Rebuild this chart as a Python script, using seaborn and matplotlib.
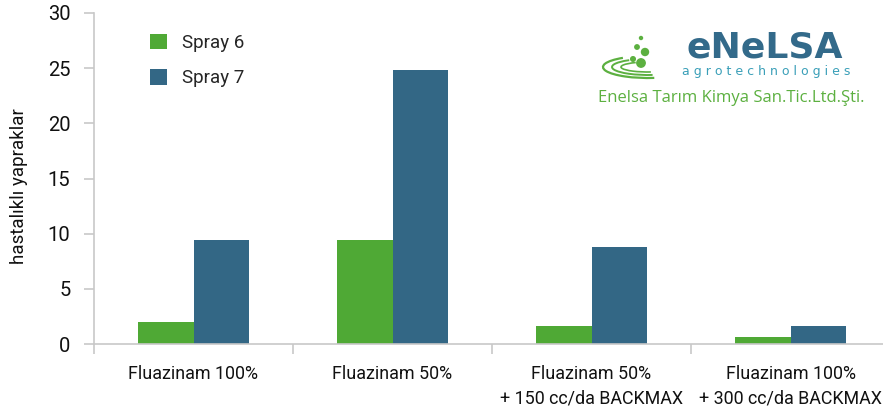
import matplotlib
matplotlib.use("Agg")
import matplotlib.pyplot as plt
from matplotlib.patches import Arc, Circle
import seaborn as sns
import pandas as pd

# veriler
kategoriler = ["Fluazinam 100%", "Fluazinam 50%",
               "Fluazinam 50%\n+ 150 cc/da BACKMAX",
               "Fluazinam 100%\n+ 300 cc/da BACKMAX"]
spray6 = [2.0, 9.4, 1.6, 0.6]
spray7 = [9.4, 24.8, 8.8, 1.6]
seriler = ["Spray 6", "Spray 7"]
renkler = ["#4fa935", "#336785"]

df = pd.DataFrame({
    "kategori": kategoriler * 2,
    "deger": spray6 + spray7,
    "seri": [seriler[0]] * 4 + [seriler[1]] * 4,
})

sns.set_style("white")
plt.rcParams["font.family"] = ["Roboto", "DejaVu Sans"]

W, H = 883, 407
fig = plt.figure(figsize=(W / 100, H / 100), dpi=100)
ax = fig.add_axes([94 / W, 1 - 344 / H, (890 - 94) / W, (344 - 13) / H])

sns.barplot(data=df, x="kategori", y="deger", hue="seri", palette=renkler,
            width=0.56, saturation=1, linewidth=0, ax=ax, legend=True)

ax.set_ylim(0, 30)
ax.set_xlim(-0.5, 3.5)
ax.set_yticks(range(0, 31, 5))
ax.set_xlabel("")
ax.set_ylabel("hastalıklı yapraklar", fontsize=13.5, color="#111111")
ax.yaxis.set_label_coords(28 / W, 1 - 186 / H, transform=fig.transFigure)

gri = "#c8c8c8"
for s in ["top", "right"]:
    ax.spines[s].set_visible(False)
for s in ["left", "bottom"]:
    ax.spines[s].set_color(gri)
    ax.spines[s].set_linewidth(1.2)

ax.tick_params(axis="y", length=7, width=1.2, color=gri, labelsize=14.5, pad=10,
               labelcolor="#111111", left=True)
ax.set_xticks([0, 1, 2, 3])
ax.set_xticklabels(kategoriler, fontsize=12.9, color="#111111", linespacing=1.5)
ax.tick_params(axis="x", which="major", length=0, pad=15)
ax.set_xticks([-0.5, 0.5, 1.5, 2.5, 3.5], minor=True)
ax.tick_params(axis="x", which="minor", length=7, width=1.2, color=gri, bottom=True)

leg = ax.legend(loc="upper left", bbox_to_anchor=(133 / W, 1 - 17 / H),
                bbox_transform=fig.transFigure, frameon=False, fontsize=13.5,
                handlelength=0.9, handleheight=0.9, handletextpad=0.8,
                labelspacing=0.9)

# logo
fig.text(765 / W, 1 - 47 / H, "eNeLSA", color="#336a8a", fontsize=26,
         fontweight="bold", ha="center", va="center", family="DejaVu Sans")
fig.text(766 / W, 1 - 72 / H, "a g r o t e c h n o l o g i e s", color="#3a9fb8",
         fontsize=9, ha="center", va="center", family="DejaVu Sans")
fig.text(731 / W, 1 - 98 / H, "Enelsa Tarım Kimya San.Tic.Ltd.Şti.", color="#5cb040",
         fontsize=12, ha="center", va="center", family="Open Sans")

yesil = "#5cb040"
for (cx, cy, r) in [(641, 38, 1.5), (637, 47, 2.2), (645, 52, 3.5), (633, 59, 2.3), (641, 63, 4.2)]:
    fig.patches.append(Circle((cx, H - cy), r, transform=None, color=yesil))
for (w, h, lw) in [(90, 22, 1.6), (72, 16, 1.4), (54, 10, 1.2)]:
    fig.patches.append(Arc((648, H - 67), w, h, theta1=160, theta2=300,
                           transform=None, color=yesil, lw=lw))

fig.savefig("out.png", dpi=100)
